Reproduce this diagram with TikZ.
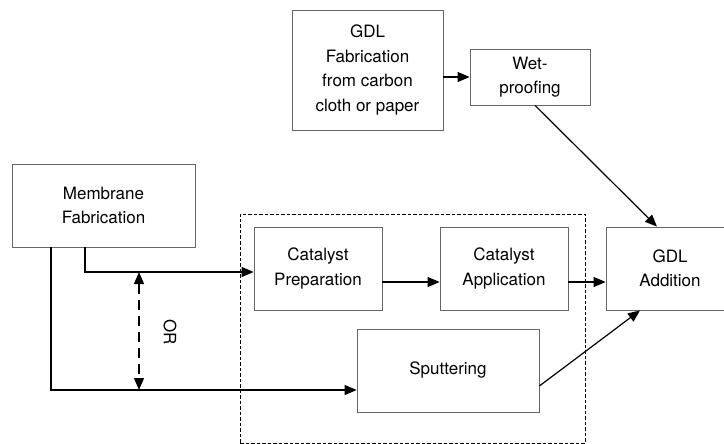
\documentclass[tikz,border=0pt]{standalone}
\usepackage{fontspec}
\setmainfont{TeX Gyre Heros}
\usetikzlibrary{arrows.meta}

\tikzset{
  stage/.style={draw=black!60, line width=0.8pt, rectangle, align=center,
    inner sep=0pt, font=\fontsize{17pt}{24.5pt}\selectfont},
  flow/.style={line width=1.2pt, -{Triangle[length=12pt,width=10pt]}},
  altflow/.style={line width=1.2pt, dash pattern=on 10pt off 6pt,
    {Triangle[length=12pt,width=10pt]}-{Triangle[length=12pt,width=10pt]}},
  groupframe/.style={draw=black, line width=0.9pt, dash pattern=on 3.5pt off 2pt,
    rectangle, inner sep=0pt},
}

\begin{document}
\begin{tikzpicture}[x=1pt, y=-1pt]
  \path[use as bounding box, clip] (0,0) rectangle (724,444);

  % catalyst stage group
  \node[groupframe, minimum width=345pt, minimum height=229pt] (grp) at (412.5,328.5) {};

  % process stages
  \node[stage, minimum width=151pt, minimum height=120pt] (gdlfab) at (367.5,70)
    {GDL\\Fabrication\\from carbon\\cloth or paper};
  \node[stage, minimum width=120pt, minimum height=56pt] (wet) at (530,77)
    {Wet-\\proofing};
  \node[stage, minimum width=183pt, minimum height=83pt] (mem) at (103.5,205.5)
    {Membrane\\Fabrication};
  \node[stage, minimum width=128pt, minimum height=83pt] (prep) at (318,268.5)
    {Catalyst\\Preparation};
  \node[stage, minimum width=128pt, minimum height=83pt] (app) at (504,268.5)
    {Catalyst\\Application};
  \node[stage, minimum width=128pt, minimum height=83pt] (gdladd) at (670,268.5)
    {GDL\\Addition};
  \node[stage, minimum width=182pt, minimum height=83pt] (sput) at (448,370.5)
    {Sputtering};

  % alternative routes
  \coordinate (orTop) at (139,272);
  \coordinate (orBot) at (139,390);
  \node[font=\fontsize{17pt}{20pt}\selectfont, rotate=-90] (ortext) at (170,332) {OR};

  % connectors
  \draw[flow] (gdlfab.east |- wet.west) -- (wet.west);
  \draw[flow] ([xshift=5pt]wet.south) -- ([xshift=-13pt]gdladd.north);
  \draw[flow] ([xshift=-18.5pt]mem.south) |- ([yshift=-3.5pt]prep.west);
  \draw[flow] ([xshift=-52.5pt]mem.south) |- ([yshift=-19.5pt]sput.west);
  \draw[altflow] (orTop) -- (orBot);
  \draw[flow] ([yshift=-13.5pt]prep.east) -- ([yshift=-13.5pt]app.west);
  \draw[flow] ([yshift=-13.5pt]app.east) -- ([yshift=-13.5pt]gdladd.west);
  \draw[flow] ([yshift=-15.5pt]sput.east) -- ([xshift=-30pt]gdladd.south);
\end{tikzpicture}
\end{document}
